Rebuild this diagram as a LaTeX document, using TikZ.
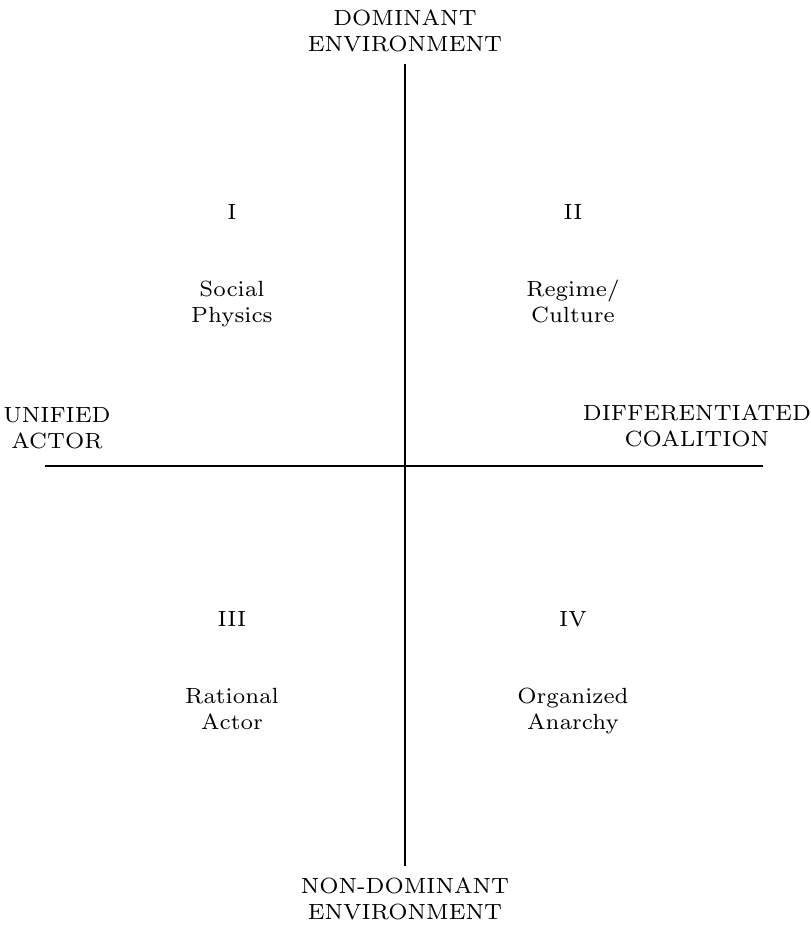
\documentclass[tikz,border=0pt]{standalone}
\font\labfontraw=cmr7 at 22pt
\newcommand\labfont{\fontsize{22}{26}\selectfont\labfontraw}
\begin{document}
\begin{tikzpicture}[x=1pt,y=-1pt,
  lab/.style={font=\labfont, align=center, inner sep=0pt},
  pair/.style={lab, text height=41pt, text depth=5pt},
  axis/.style={line width=2.6pt}]
\useasboundingbox (0,0) rectangle (811,929);
\coordinate (vtop) at (405,64);
\coordinate (vbot) at (405,866);
\coordinate (hleft) at (45,466);
\coordinate (hright) at (763,466);
\draw[axis] (vtop) -- (vbot);
\draw[axis] (hleft) -- (hright);
\node[lab] (dom) at (405,31) {DOMINANT\\ENVIRONMENT};
\node[lab] (nondom) at (405,899) {NON-DOMINANT\\ENVIRONMENT};
\node[lab] (unified) at (57,428) {UNIFIED\\ACTOR};
\node[lab] (diff) at (697,426) {DIFFERENTIATED\\COALITION};
\node[lab] (q1) at (232,212) {I};
\node[pair] (q1t) at (232,304) {Social\\Physics};
\node[lab] (q2) at (573,212) {II};
\node[pair] (q2t) at (573,304) {Regime/\\Culture};
\node[lab] (q3) at (232,619) {III};
\node[pair] (q3t) at (232,711) {Rational\\Actor};
\node[lab] (q4) at (573,619) {IV};
\node[pair] (q4t) at (573,711) {Organized\\Anarchy};
\end{tikzpicture}
\end{document}
